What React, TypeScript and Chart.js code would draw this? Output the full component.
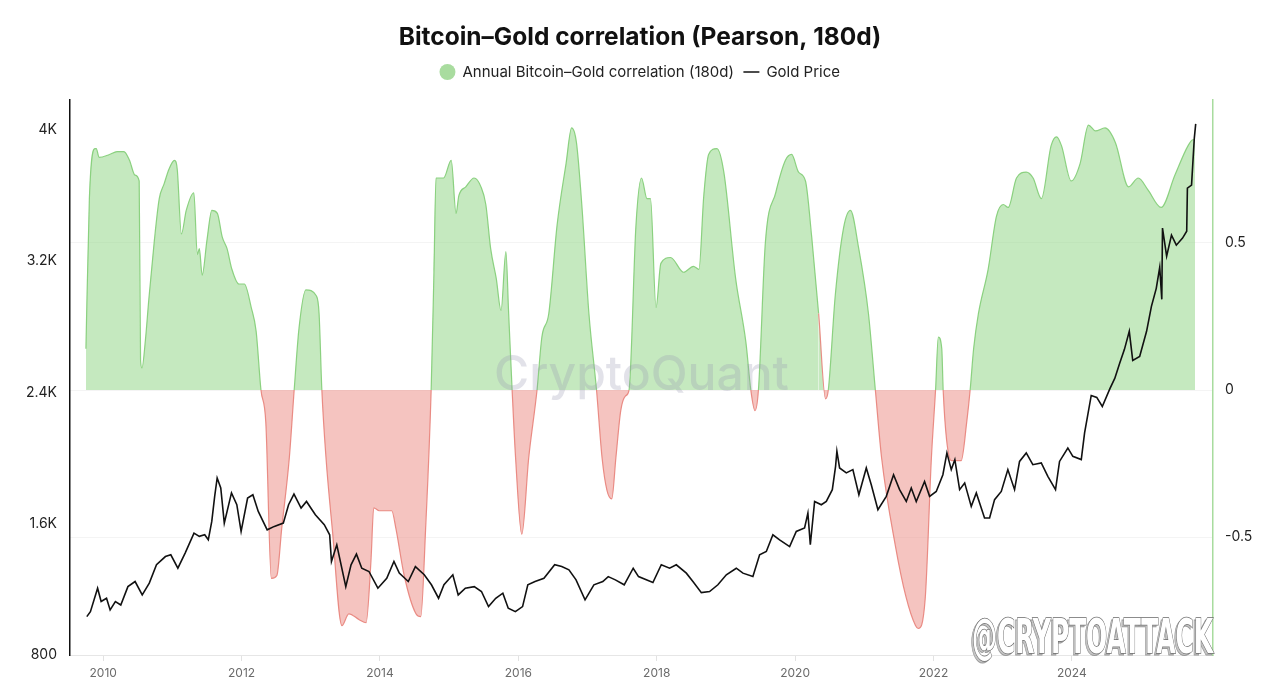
import React, { useEffect, useRef } from 'react';
import { Chart, registerables } from 'chart.js';

Chart.register(...registerables);

const titleText = 'Bitcoin–Gold correlation (Pearson, 180d)';
const corrLabel = 'Annual Bitcoin–Gold correlation (180d)';
const goldLabel = 'Gold Price';

// 180d Pearson correlation (right axis)
const corrDates = [
  2009.75, 2009.8, 2009.88, 2009.9, 2009.94, 2010.09, 2010.2, 2010.3, 2010.38, 2010.46, 2010.52, 2010.54,
  2010.56, 2010.61, 2010.66, 2010.74, 2010.81, 2010.88, 2010.95, 2011.03, 2011.07, 2011.13, 2011.2, 2011.31,
  2011.36, 2011.39, 2011.43, 2011.5, 2011.57, 2011.65, 2011.72, 2011.79, 2011.86, 2011.96, 2012.04, 2012.14,
  2012.21, 2012.28, 2012.35, 2012.43, 2012.51, 2012.58, 2012.69, 2012.76, 2012.83, 2012.93, 2013.08, 2013.12,
  2013.16, 2013.22, 2013.31, 2013.45, 2013.55, 2013.7, 2013.8, 2013.87, 2013.91, 2013.99, 2014.17, 2014.23,
  2014.35, 2014.52, 2014.59, 2014.66, 2014.74, 2014.78, 2014.81, 2014.85, 2014.92, 2015.03, 2015.1, 2015.14,
  2015.24, 2015.36, 2015.46, 2015.53, 2015.6, 2015.68, 2015.75, 2015.82, 2015.86, 2015.91, 2015.96, 2016.05,
  2016.15, 2016.27, 2016.34, 2016.44, 2016.56, 2016.69, 2016.77, 2016.84, 2016.92, 2017.02, 2017.13, 2017.21,
  2017.28, 2017.35, 2017.41, 2017.48, 2017.55, 2017.6, 2017.7, 2017.78, 2017.86, 2017.91, 2017.99, 2018.06,
  2018.2, 2018.39, 2018.53, 2018.61, 2018.68, 2018.75, 2018.87, 2018.97, 2019.14, 2019.29, 2019.36, 2019.42,
  2019.47, 2019.57, 2019.72, 2019.86, 2019.95, 2020.05, 2020.15, 2020.24, 2020.34, 2020.44, 2020.48, 2020.58,
  2020.7, 2020.8, 2020.92, 2021.06, 2021.16, 2021.25, 2021.45, 2021.6, 2021.74, 2021.78, 2021.88, 2021.97,
  2022.03, 2022.07, 2022.12, 2022.14, 2022.19, 2022.26, 2022.4, 2022.48, 2022.53, 2022.58, 2022.65, 2022.79,
  2022.91, 2023.01, 2023.08, 2023.2, 2023.34, 2023.44, 2023.56, 2023.7, 2023.78, 2023.85, 2023.99, 2024.12,
  2024.24, 2024.34, 2024.48, 2024.63, 2024.82, 2024.96, 2025.1, 2025.29, 2025.49, 2025.68, 2025.75, 2025.78,
];
const corrValues = [
  0.14, 0.65, 0.82, 0.82, 0.79, 0.8, 0.81, 0.81, 0.78, 0.73, 0.71, 0.1,
  0.075, 0.17, 0.31, 0.51, 0.65, 0.7, 0.75, 0.78, 0.75, 0.53, 0.61, 0.67,
  0.46, 0.48, 0.39, 0.51, 0.61, 0.6, 0.52, 0.48, 0.41, 0.36, 0.36, 0.28,
  0.2, 0.0, -0.11, -0.64, -0.63, -0.47, -0.23, 0.0, 0.21, 0.34, 0.32, 0.26,
  0.0, -0.23, -0.47, -0.8, -0.76, -0.78, -0.79, -0.58, -0.4, -0.41, -0.41, -0.47,
  -0.63, -0.76, -0.77, -0.47, 0.0, 0.4, 0.72, 0.72, 0.72, 0.78, 0.6, 0.66,
  0.69, 0.72, 0.69, 0.63, 0.48, 0.38, 0.27, 0.47, 0.26, 0.0, -0.23, -0.49,
  -0.23, 0.0, 0.18, 0.26, 0.56, 0.77, 0.89, 0.84, 0.62, 0.26, 0.0, -0.23,
  -0.34, -0.37, -0.23, -0.07, -0.02, 0.0, 0.56, 0.72, 0.65, 0.65, 0.28, 0.43,
  0.45, 0.4, 0.42, 0.41, 0.66, 0.8, 0.82, 0.74, 0.38, 0.16, 0.0, -0.07,
  0.0, 0.5, 0.67, 0.78, 0.8, 0.74, 0.71, 0.52, 0.26, -0.03, 0.0, 0.32,
  0.55, 0.61, 0.48, 0.26, 0.0, -0.23, -0.53, -0.7, -0.8, -0.81, -0.71, -0.23,
  0.0, 0.18, 0.14, 0.0, -0.17, -0.24, -0.24, -0.11, 0.0, 0.14, 0.26, 0.41,
  0.59, 0.63, 0.62, 0.72, 0.74, 0.72, 0.65, 0.83, 0.86, 0.83, 0.71, 0.77,
  0.9, 0.88, 0.89, 0.84, 0.69, 0.72, 0.68, 0.62, 0.73, 0.83, 0.85, 0.85,
];

// Gold price in USD (left axis)
const goldDates = [
  2009.763, 2009.815, 2009.919, 2009.97, 2010.048, 2010.1, 2010.176, 2010.254, 2010.357, 2010.461, 2010.564, 2010.666,
  2010.77, 2010.899, 2010.977, 2011.079, 2011.184, 2011.312, 2011.389, 2011.467, 2011.519, 2011.569, 2011.611, 2011.647,
  2011.699, 2011.75, 2011.854, 2011.931, 2011.993, 2012.087, 2012.163, 2012.241, 2012.37, 2012.473, 2012.603, 2012.679,
  2012.757, 2012.86, 2012.938, 2013.066, 2013.195, 2013.273, 2013.299, 2013.376, 2013.506, 2013.582, 2013.66, 2013.737,
  2013.841, 2013.97, 2014.098, 2014.202, 2014.279, 2014.409, 2014.512, 2014.64, 2014.744, 2014.847, 2014.925, 2015.053,
  2015.131, 2015.234, 2015.363, 2015.467, 2015.569, 2015.673, 2015.776, 2015.854, 2015.957, 2016.061, 2016.137, 2016.241,
  2016.37, 2016.525, 2016.627, 2016.731, 2016.834, 2016.964, 2017.092, 2017.221, 2017.299, 2017.402, 2017.53, 2017.66,
  2017.737, 2017.945, 2018.066, 2018.186, 2018.283, 2018.428, 2018.523, 2018.645, 2018.764, 2018.884, 2019.006, 2019.15,
  2019.246, 2019.39, 2019.487, 2019.584, 2019.679, 2019.776, 2019.921, 2020.017, 2020.137, 2020.185, 2020.22, 2020.282,
  2020.379, 2020.451, 2020.538, 2020.585, 2020.604, 2020.643, 2020.74, 2020.835, 2020.922, 2021.029, 2021.101, 2021.197,
  2021.318, 2021.423, 2021.51, 2021.607, 2021.679, 2021.751, 2021.871, 2021.944, 2022.04, 2022.136, 2022.194, 2022.257,
  2022.309, 2022.378, 2022.451, 2022.546, 2022.619, 2022.738, 2022.811, 2022.883, 2022.98, 2023.075, 2023.172, 2023.244,
  2023.341, 2023.436, 2023.558, 2023.653, 2023.764, 2023.822, 2023.942, 2024.014, 2024.136, 2024.184, 2024.28, 2024.36,
  2024.44, 2024.55, 2024.62, 2024.69, 2024.76, 2024.83, 2024.88, 2024.98, 2025.08, 2025.15, 2025.22, 2025.27,
  2025.3, 2025.31, 2025.37, 2025.44, 2025.51, 2025.6, 2025.66, 2025.67, 2025.73, 2025.77, 2025.79,
];
const goldValues = [
  1034, 1064, 1207, 1126, 1146, 1075, 1126, 1105, 1217, 1248, 1166, 1238,
  1350, 1400, 1411, 1329, 1421, 1543, 1523, 1533, 1502, 1614, 1767, 1879,
  1818, 1604, 1788, 1716, 1553, 1757, 1777, 1675, 1563, 1584, 1604, 1716,
  1781, 1696, 1736, 1655, 1594, 1533, 1370, 1472, 1217, 1350, 1415, 1329,
  1309, 1207, 1268, 1370, 1299, 1248, 1339, 1289, 1228, 1146, 1228, 1289,
  1166, 1207, 1217, 1187, 1095, 1146, 1177, 1085, 1064, 1095, 1228, 1248,
  1268, 1350, 1339, 1319, 1258, 1136, 1228, 1248, 1278, 1258, 1228, 1329,
  1278, 1242, 1350, 1329, 1350, 1299, 1248, 1180, 1187, 1228, 1289, 1329,
  1299, 1278, 1411, 1431, 1533, 1502, 1461, 1553, 1574, 1665, 1472, 1736,
  1716, 1736, 1808, 1950, 2042, 1940, 1910, 1930, 1777, 1940, 1838, 1686,
  1767, 1899, 1808, 1736, 1818, 1736, 1858, 1767, 1797, 1899, 2032, 1930,
  1991, 1808, 1849, 1706, 1788, 1635, 1635, 1747, 1797, 1930, 1808, 1980,
  2032, 1960, 1971, 1889, 1808, 1980, 2062, 2011, 1991, 2154, 2382, 2370,
  2315, 2424, 2486, 2577, 2663, 2773, 2595, 2620, 2773, 2925, 3035, 3163,
  2968, 3402, 3231, 3359, 3298, 3341, 3383, 3646, 3664, 3951, 4037,
];

const leftTicks = [800, 1600, 2400, 3200, 4000];
const rightTicks = [-0.5, 0, 0.5];
const yearTicks = [2010, 2012, 2014, 2016, 2018, 2020, 2022, 2024];

const GREEN_FILL = 'rgba(140, 212, 128, 0.5)';
const GREEN_LINE = 'rgba(130, 205, 118, 0.9)';
const RED_FILL = 'rgba(235, 137, 129, 0.5)';
const RED_LINE = 'rgba(232, 130, 122, 0.9)';
const FONT = 'Inter, "Noto Sans", sans-serif';

const watermark = {
  id: 'cqWatermark',
  afterDatasetsDraw(chart: any) {
    const { ctx, chartArea } = chart;
    ctx.save();
    ctx.font = '500 48px Inter, sans-serif';
    ctx.fillStyle = 'rgba(150, 150, 175, 0.28)';
    ctx.textAlign = 'center';
    ctx.textBaseline = 'middle';
    ctx.fillText('CryptoQuant', (chartArea.left + chartArea.right) / 2, (chartArea.top + chartArea.bottom) / 2 - 2);
    ctx.restore();
  },
};

export default function App() {
  const canvasRef = useRef<HTMLCanvasElement | null>(null);

  useEffect(() => {
    document.body.style.margin = '0';
    const canvas = canvasRef.current;
    if (!canvas) return;

    const corrData = corrDates.map((d, i) => ({ x: d, y: corrValues[i] }));
    const goldData = goldDates.map((d, i) => ({ x: d, y: goldValues[i] }));

    const chart = new Chart(canvas, {
      type: 'line',
      data: {
        datasets: [
          {
            label: corrLabel,
            data: corrData,
            yAxisID: 'y1',
            borderWidth: 1.2,
            borderColor: GREEN_LINE,
            backgroundColor: GREEN_FILL,
            pointRadius: 0,
            cubicInterpolationMode: 'monotone',
            fill: { target: 'origin', above: GREEN_FILL, below: RED_FILL },
            segment: {
              borderColor: (ctx: any) => (ctx.p0.parsed.y < 0 || ctx.p1.parsed.y < 0 ? RED_LINE : GREEN_LINE),
            },
            order: 2,
          } as any,
          {
            label: goldLabel,
            data: goldData,
            yAxisID: 'y',
            borderColor: '#111',
            borderWidth: 1.6,
            pointRadius: 0,
            tension: 0,
            fill: false,
            order: 1,
          },
        ],
      },
      options: {
        animation: false,
        responsive: false,
        maintainAspectRatio: false,
        devicePixelRatio: 1,
        layout: { padding: 0 },
        plugins: {
          tooltip: { enabled: false },
          title: {
            display: true,
            text: titleText,
            color: '#111',
            font: { family: FONT, size: 24.5, weight: 'bold', lineHeight: 1.2 },
            padding: { top: 23.3, bottom: 1.8 },
          },
          subtitle: {
            display: true,
            text: '',
            weight: 500,
            padding: 0,
            font: { size: 10, lineHeight: '10.5px' },
          } as any,
          legend: {
            display: true,
            position: 'top',
            labels: {
              usePointStyle: true,
              boxHeight: 11.3,
              padding: 10,
              color: '#222',
              font: { family: FONT, size: 15 },
              generateLabels: () => [
                {
                  text: corrLabel,
                  fillStyle: '#a9dc9f',
                  strokeStyle: '#a9dc9f',
                  lineWidth: 0,
                  pointStyle: 'circle',
                  hidden: false,
                  datasetIndex: 0,
                  fontColor: '#222',
                },
                {
                  text: goldLabel,
                  fillStyle: '#111',
                  strokeStyle: '#111',
                  lineWidth: 1.5,
                  pointStyle: 'line',
                  hidden: false,
                  datasetIndex: 1,
                  fontColor: '#222',
                },
              ] as any,
            },
          },
        },
        scales: {
          x: {
            type: 'linear',
            min: 2009.52,
            max: 2026.04,
            afterBuildTicks: (axis: any) => {
              axis.ticks = yearTicks.map((v) => ({ value: v }));
            },
            afterFit: (axis: any) => {
              axis.height = 30;
            },
            ticks: {
              color: '#6b6b6b',
              font: { family: FONT, size: 12 },
              padding: 5,
              maxRotation: 0,
              autoSkip: false,
              callback: (v: any) => String(v),
            },
            grid: { drawOnChartArea: false, drawTicks: true, tickLength: 6, color: '#e2e2e2' },
            border: { display: true, color: '#e6e6e6', width: 1 },
          },
          y: {
            type: 'linear',
            position: 'left',
            min: 800,
            max: 4183,
            afterBuildTicks: (axis: any) => {
              axis.ticks = leftTicks.map((v) => ({ value: v }));
            },
            afterFit: (axis: any) => {
              axis.width = 70;
            },
            ticks: {
              color: '#222',
              font: { family: FONT, size: 14 },
              padding: 13,
              callback: (v: any) => (v >= 1000 ? `${v / 1000}K` : String(v)),
            },
            grid: { display: false, drawTicks: false },
            border: { display: true, color: '#111', width: 1.5 },
          },
          y1: {
            type: 'linear',
            position: 'right',
            min: -0.9,
            max: 0.985,
            afterBuildTicks: (axis: any) => {
              axis.ticks = rightTicks.map((v) => ({ value: v }));
            },
            afterFit: (axis: any) => {
              axis.width = 67;
            },
            ticks: {
              color: '#222',
              font: { family: FONT, size: 14 },
              padding: 12,
              callback: (v: any) => String(v),
            },
            grid: { display: true, drawTicks: false, color: 'rgba(0,0,0,0.045)' },
            border: { display: true, color: '#a8dc9e', width: 1.5 },
          },
        },
      },
      plugins: [watermark],
    });

    return () => {
      chart.destroy();
    };
  }, []);

  return (
    <div style={{ position: 'absolute', left: 0, top: 0, width: 1280, height: 685, background: '#fff' }}>
      <canvas ref={canvasRef} width={1280} height={685} style={{ display: 'block', width: 1280, height: 685 }} />
      <svg
        width={1280}
        height={685}
        style={{ position: 'absolute', left: 0, top: 0, pointerEvents: 'none' }}
      >
        <text
          x={970}
          y={655}
          textLength={241}
          lengthAdjust="spacingAndGlyphs"
          fontFamily="'Liberation Sans Narrow', 'DejaVu Sans Condensed', sans-serif"
          fontWeight="bold"
          fontSize={48}
          fill="#c4c4c4"
          stroke="#9a9a9a"
          strokeWidth={1}
        >
          @CRYPTOATTACK
        </text>
        <text
          x={972}
          y={653}
          textLength={241}
          lengthAdjust="spacingAndGlyphs"
          fontFamily="'Liberation Sans Narrow', 'DejaVu Sans Condensed', sans-serif"
          fontWeight="bold"
          fontSize={48}
          fill="#ffffff"
          stroke="#6a6a6a"
          strokeWidth={1.5}
          style={{ paintOrder: 'stroke' } as any}
        >
          @CRYPTOATTACK
        </text>
      </svg>
    </div>
  );
}
